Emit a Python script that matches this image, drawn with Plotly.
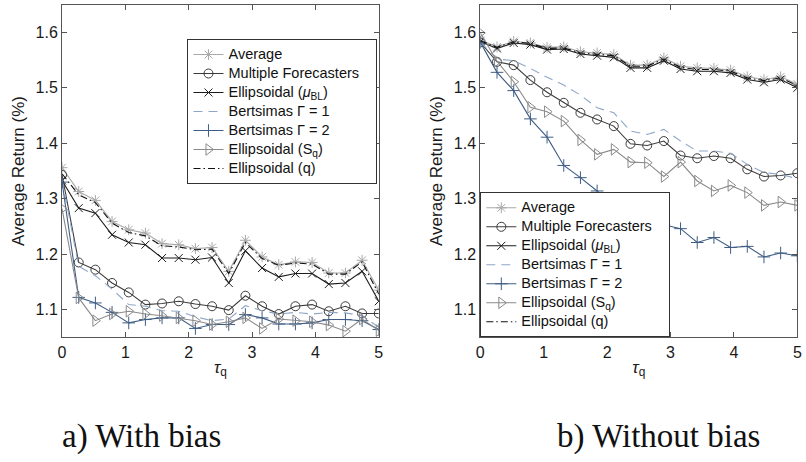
import plotly.graph_objects as go

# tau_q grid shared by both panels
tau_q = [round(5 * i / 19, 4) for i in range(20)]

# ---- a) With bias ----
avg_a = [1.356, 1.313, 1.297, 1.259, 1.244, 1.238, 1.219, 1.217, 1.210, 1.212,
         1.169, 1.225, 1.195, 1.181, 1.186, 1.185, 1.166, 1.166, 1.189, 1.135]
multi_a = [1.343, 1.185, 1.172, 1.148, 1.131, 1.109, 1.111, 1.115, 1.110, 1.106,
           1.099, 1.125, 1.106, 1.092, 1.106, 1.109, 1.097, 1.106, 1.093, 1.093]
ell_mu_a = [1.333, 1.283, 1.274, 1.235, 1.221, 1.217, 1.193, 1.193, 1.190, 1.194,
            1.148, 1.206, 1.175, 1.159, 1.165, 1.165, 1.146, 1.148, 1.169, 1.115]
bert1_a = [1.335, 1.178, 1.161, 1.137, 1.109, 1.106, 1.098, 1.097, 1.087, 1.080,
           1.083, 1.107, 1.098, 1.092, 1.095, 1.092, 1.095, 1.094, 1.089, 1.068]
bert2_a = [1.330, 1.122, 1.112, 1.095, 1.076, 1.082, 1.085, 1.085, 1.066, 1.073,
           1.073, 1.091, 1.085, 1.074, 1.074, 1.076, 1.082, 1.082, 1.080, 1.064]
ell_sq_a = [1.282, 1.121, 1.080, 1.092, 1.097, 1.092, 1.089, 1.085, 1.080, 1.073,
            1.078, 1.085, 1.066, 1.083, 1.080, 1.078, 1.072, 1.061, 1.083, 1.062]
ell_q_a = [1.345, 1.307, 1.293, 1.256, 1.239, 1.233, 1.215, 1.213, 1.208, 1.209,
           1.165, 1.221, 1.192, 1.180, 1.184, 1.182, 1.164, 1.164, 1.186, 1.128]

# ---- b) Without bias ----
avg_b = [1.586, 1.574, 1.584, 1.581, 1.573, 1.574, 1.565, 1.563, 1.560, 1.541,
         1.541, 1.554, 1.539, 1.536, 1.535, 1.532, 1.520, 1.515, 1.520, 1.507]
multi_b = [1.582, 1.547, 1.541, 1.514, 1.492, 1.473, 1.455, 1.443, 1.431, 1.399,
           1.396, 1.404, 1.378, 1.373, 1.377, 1.373, 1.353, 1.340, 1.342, 1.346]
ell_mu_b = [1.583, 1.571, 1.581, 1.578, 1.569, 1.570, 1.561, 1.558, 1.555, 1.536,
            1.536, 1.549, 1.534, 1.530, 1.530, 1.527, 1.515, 1.510, 1.515, 1.500]
bert1_b = [1.583, 1.552, 1.549, 1.535, 1.519, 1.505, 1.487, 1.464, 1.455, 1.422,
           1.416, 1.425, 1.404, 1.386, 1.386, 1.382, 1.362, 1.347, 1.344, 1.336]
bert2_b = [1.582, 1.528, 1.495, 1.444, 1.411, 1.360, 1.338, 1.314, 1.287, 1.272,
           1.262, 1.253, 1.246, 1.221, 1.230, 1.212, 1.214, 1.195, 1.202, 1.197]
ell_sq_b = [1.599, 1.548, 1.511, 1.465, 1.457, 1.440, 1.406, 1.380, 1.389, 1.366,
            1.365, 1.340, 1.366, 1.332, 1.314, 1.324, 1.311, 1.288, 1.294, 1.288]
ell_q_b = [1.585, 1.573, 1.583, 1.580, 1.571, 1.572, 1.563, 1.561, 1.558, 1.539,
           1.539, 1.552, 1.537, 1.533, 1.533, 1.530, 1.518, 1.513, 1.518, 1.504]

series_names = ["Average", "Multiple Forecasters&nbsp;&nbsp;&nbsp;",
                "Ellipsoidal (<i>μ</i><sub>BL</sub>)",
                "Bertsimas Γ = 1", "Bertsimas Γ = 2", "Ellipsoidal (S<sub>q</sub>)",
                "Ellipsoidal (q)"]

styles = [
    dict(color="#a9a9a9", dash="solid", symbol="asterisk-open", size=9),
    dict(color="#3c3c3c", dash="solid", symbol="circle-open", size=9),
    dict(color="#1c1c1c", dash="solid", symbol="x-thin-open", size=8),
    dict(color="#8fa7c6", dash="9px,6px", symbol=None, size=0),
    dict(color="#3e5c84", dash="solid", symbol="cross-thin-open", size=9),
    dict(color="#8a8a8a", dash="solid", symbol="triangle-right-open", size=10),
    dict(color="#111111", dash="7px,3px,1.5px,3px", symbol=None, size=0),
]

panels = [
    ([avg_a, multi_a, ell_mu_a, bert1_a, bert2_a, ell_sq_a, ell_q_a], "x", "y", "legend"),
    ([avg_b, multi_b, ell_mu_b, bert1_b, bert2_b, ell_sq_b, ell_q_b], "x2", "y2", "legend2"),
]

fig = go.Figure()
for series, xa, ya, lg in panels:
    for name, vals, st in zip(series_names, series, styles):
        mode = "lines+markers" if st["symbol"] else "lines"
        marker = dict(symbol=st["symbol"], size=st["size"], color=st["color"],
                      line=dict(color=st["color"], width=1)) if st["symbol"] else None
        fig.add_trace(go.Scatter(
            x=tau_q, y=vals, mode=mode, xaxis=xa, yaxis=ya, legend=lg,
            name='<span style="font-size:14.5px">' + name + "</span>",
            line=dict(color=st["color"], width=1.1, dash=st["dash"]),
            marker=marker,
        ))

W, H = 806, 462
SANS = "Liberation Sans, Arial, sans-serif"
axis_font = dict(family=SANS, size=16, color="#1a1a1a")
xcommon = dict(range=[0, 5], tickvals=[0, 1, 2, 3, 4, 5], ticks="inside", ticklen=5,
               showline=True, linecolor="#555555", linewidth=1, mirror="ticks",
               tickcolor="#555555", showgrid=False, zeroline=False, tickfont=axis_font,
               title=dict(text="<i>τ</i><sub>q</sub>",
                          font=dict(size=17, color="#1a1a1a", family=SANS), standoff=1))
ycommon = dict(range=[1.05, 1.65], tickvals=[1.1, 1.2, 1.3, 1.4, 1.5, 1.6],
               ticktext=["1.1", "1.2", "1.3", "1.4", "1.5", "1.6"],
               ticks="inside", ticklen=5, showline=True, linecolor="#555555", linewidth=1,
               mirror="ticks", tickcolor="#555555", showgrid=False, zeroline=False,
               tickfont=axis_font,
               title=dict(text="Average Return (%)",
                          font=dict(size=17, color="#1a1a1a", family=SANS), standoff=6))

ydom = [1 - 337.3 / H, 1 - 4.7 / H]
legend_common = dict(bgcolor="white", bordercolor="#333333", borderwidth=1,
                     font=dict(family=SANS, size=11, color="#111111"),
                     tracegroupgap=0, itemwidth=30)

caption_font = dict(family="Liberation Serif, serif", size=33, color="#111111")

fig.update_layout(
    width=W, height=H, margin=dict(l=0, r=0, t=0, b=0),
    paper_bgcolor="white", plot_bgcolor="white",
    xaxis=dict(domain=[58.7 / W, 379 / W], anchor="y", **xcommon),
    yaxis=dict(domain=ydom, anchor="x", **ycommon),
    xaxis2=dict(domain=[481.7 / W, 802.3 / W], anchor="y2", **xcommon),
    yaxis2=dict(domain=ydom, anchor="x2", **ycommon),
    legend=dict(x=377.7 / W, xanchor="right", y=1 - 39 / H, yanchor="top", **legend_common),
    legend2=dict(x=481.7 / W, xanchor="left", y=1 - 337.3 / H, yanchor="bottom", **legend_common),
    showlegend=True,
    annotations=[
        dict(text="a) With bias", x=139 / W, y=1 - 436 / H, xref="paper", yref="paper",
             xanchor="center", yanchor="middle", showarrow=False, font=caption_font),
        dict(text="b) Without bias", x=662 / W, y=1 - 436 / H, xref="paper", yref="paper",
             xanchor="center", yanchor="middle", showarrow=False, font=caption_font),
    ],
)

fig.write_html("out.html")
